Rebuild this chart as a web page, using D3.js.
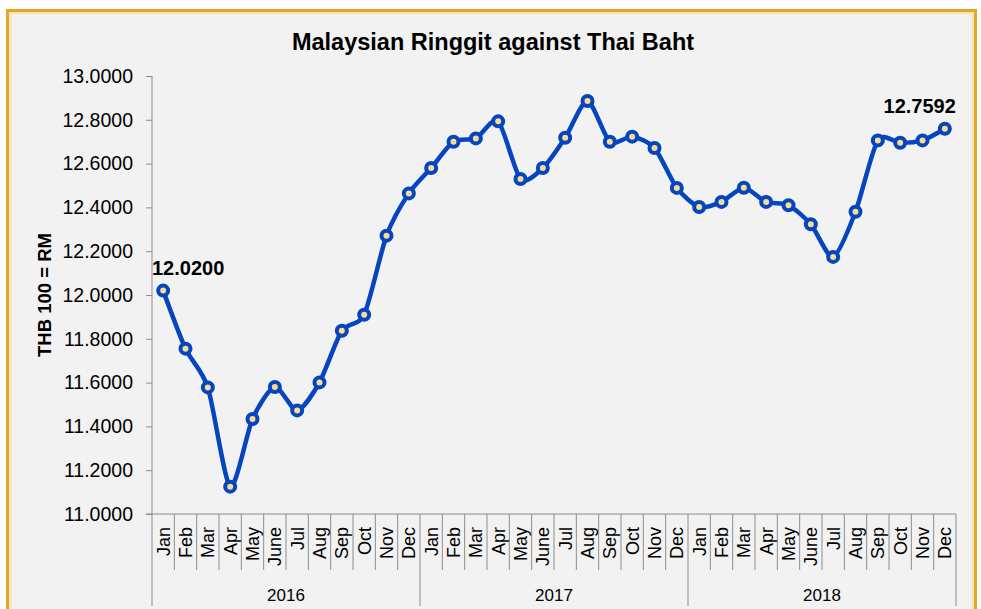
<!DOCTYPE html>
<html>
<head>
<meta charset="utf-8">
<script src="https://cdn.jsdelivr.net/npm/d3@7"></script>
<style>
  body { margin: 0; background: #ffffff; }
  svg { display: block; font-family: "Liberation Sans", Arial, sans-serif; }
</style>
</head>
<body>
<svg id="chart"></svg>
<script>
var years = ["2016", "2017", "2018"];
var months = ["Jan", "Feb", "Mar", "Apr", "May", "June", "Jul", "Aug", "Sep", "Oct", "Nov", "Dec"];
var rates = [
    12.0200, 11.755, 11.578, 11.125, 11.434, 11.580, 11.473, 11.601, 11.837, 11.910, 12.271, 12.464,
    12.580, 12.700, 12.715, 12.793, 12.530, 12.580, 12.718, 12.886, 12.700, 12.723, 12.671, 12.489,
    12.402, 12.425, 12.490, 12.425, 12.410, 12.323, 12.174, 12.380, 12.706, 12.695, 12.706, 12.7592
];
var yTicks = [11, 11.2, 11.4, 11.6, 11.8, 12, 12.2, 12.4, 12.6, 12.8, 13];

var screen = {width: 981, height: 609};
var margins = {top: 76, left: 152, right: 25, bottom: 95};
var graph = {
    width: screen.width - margins.left - margins.right,
    height: screen.height - margins.top - margins.bottom
};

// one entry per month, across all years
var points = [];
years.forEach(function(y, yi) {
    months.forEach(function(m, mi) {
        var i = yi * months.length + mi;
        points.push({key: y + "-" + m, month: m, year: y, value: rates[i], index: i});
    });
});

var svg = d3.select("#chart")
    .attr("width", screen.width)
    .attr("height", screen.height);

// frame
svg.append("rect")
    .attr("x", 7.5).attr("y", 10.5)
    .attr("width", 968).attr("height", 620)
    .attr("fill", "#f2f2f2")
    .attr("stroke", "#e0a72a")
    .attr("stroke-width", 3);
svg.append("rect")
    .attr("x", 10.5).attr("y", 13)
    .attr("width", 962).attr("height", 620)
    .attr("fill", "none")
    .attr("stroke", "#fbe3a6")
    .attr("stroke-width", 2);

var xScale = d3.scaleBand()
    .domain(points.map(function(d) { return d.key; }))
    .range([0, graph.width]);

var yScale = d3.scaleLinear()
    .domain([11, 13])
    .range([graph.height, 0]);

var g = svg.append("g")
    .attr("transform", "translate(" + margins.left + "," + margins.top + ")");

// title
svg.append("text")
    .attr("x", 493).attr("y", 50)
    .attr("text-anchor", "middle")
    .attr("font-size", 23.5)
    .attr("font-weight", "bold")
    .attr("fill", "#000")
    .text("Malaysian Ringgit against Thai Baht");

// y axis
var yAxis = d3.axisLeft(yScale)
    .tickValues(yTicks)
    .tickSize(6)
    .tickFormat(d3.format(".4f"));
var ya = g.append("g").call(yAxis);
ya.select(".domain").attr("stroke", "#8c8c8c").attr("d", "M0,0V" + graph.height);
ya.selectAll(".tick line").attr("stroke", "#8c8c8c");
ya.selectAll(".tick text")
    .attr("x", -19)
    .attr("font-size", 19.5)
    .attr("font-family", "Liberation Sans, Arial, sans-serif")
    .attr("fill", "#000");

svg.append("text")
    .attr("transform", "translate(51,295) rotate(-90)")
    .attr("text-anchor", "middle")
    .attr("font-size", 18.5)
    .attr("font-weight", "bold")
    .text("THB 100 = RM");

// x axis: month level
var xAxis = d3.axisBottom(xScale).tickSize(0).tickFormat("");
var xa = g.append("g")
    .attr("transform", "translate(0," + graph.height + ")")
    .call(xAxis);
xa.select(".domain").attr("stroke", "#8c8c8c").attr("d", "M-6,0H" + graph.width);

var step = xScale.step();
// month separators
g.append("g").selectAll("line")
    .data(points.filter(function(d) { return d.index % 12 !== 0; }))
    .enter().append("line")
    .attr("x1", function(d) { return xScale(d.key); })
    .attr("x2", function(d) { return xScale(d.key); })
    .attr("y1", graph.height)
    .attr("y2", graph.height + 56)
    .attr("stroke", "#8c8c8c");

// year separators
var yearEdges = d3.range(years.length + 1);
g.append("g").selectAll("line")
    .data(yearEdges)
    .enter().append("line")
    .attr("x1", function(i) { return i * 12 * step; })
    .attr("x2", function(i) { return i * 12 * step; })
    .attr("y1", graph.height)
    .attr("y2", graph.height + 92)
    .attr("stroke", "#8c8c8c");

// month labels
g.append("g").selectAll("text")
    .data(points)
    .enter().append("text")
    .attr("transform", function(d) {
        return "translate(" + (xScale(d.key) + step / 2 + 6.5) + "," + (graph.height + 13) + ") rotate(-90)";
    })
    .attr("text-anchor", "end")
    .attr("font-size", 18)
    .attr("fill", "#000")
    .text(function(d) { return d.month; });

// year labels
g.append("g").selectAll("text")
    .data(years)
    .enter().append("text")
    .attr("x", function(d, i) { return (i + 0.5) * 12 * step; })
    .attr("y", graph.height + 87)
    .attr("text-anchor", "middle")
    .attr("font-size", 17)
    .attr("fill", "#000")
    .text(function(d) { return d; });

// line
var line = d3.line()
    .x(function(d) { return xScale(d.key) + step / 2; })
    .y(function(d) { return yScale(d.value); })
    .curve(d3.curveCardinal.tension(0.25));

g.append("path")
    .datum(points)
    .attr("d", line)
    .attr("fill", "none")
    .attr("stroke", "#0645c0")
    .attr("stroke-width", 4.5)
    .attr("stroke-linejoin", "round");

g.append("g").selectAll("circle")
    .data(points)
    .enter().append("circle")
    .attr("cx", function(d) { return xScale(d.key) + step / 2; })
    .attr("cy", function(d) { return yScale(d.value); })
    .attr("r", 5)
    .attr("fill", "#f9dc8e")
    .attr("stroke", "#0645c0")
    .attr("stroke-width", 4);

// data labels for first and last
var first = points[0], last = points[points.length - 1];
g.append("text")
    .attr("x", xScale(first.key))
    .attr("y", yScale(first.value) - 16)
    .attr("font-size", 20)
    .attr("font-weight", "bold")
    .text(d3.format(".4f")(first.value));
g.append("text")
    .attr("x", xScale(last.key) + step / 2 + 11)
    .attr("y", yScale(last.value) - 16)
    .attr("text-anchor", "end")
    .attr("font-size", 20)
    .attr("font-weight", "bold")
    .text(d3.format(".4f")(last.value));
</script>
</body>
</html>
